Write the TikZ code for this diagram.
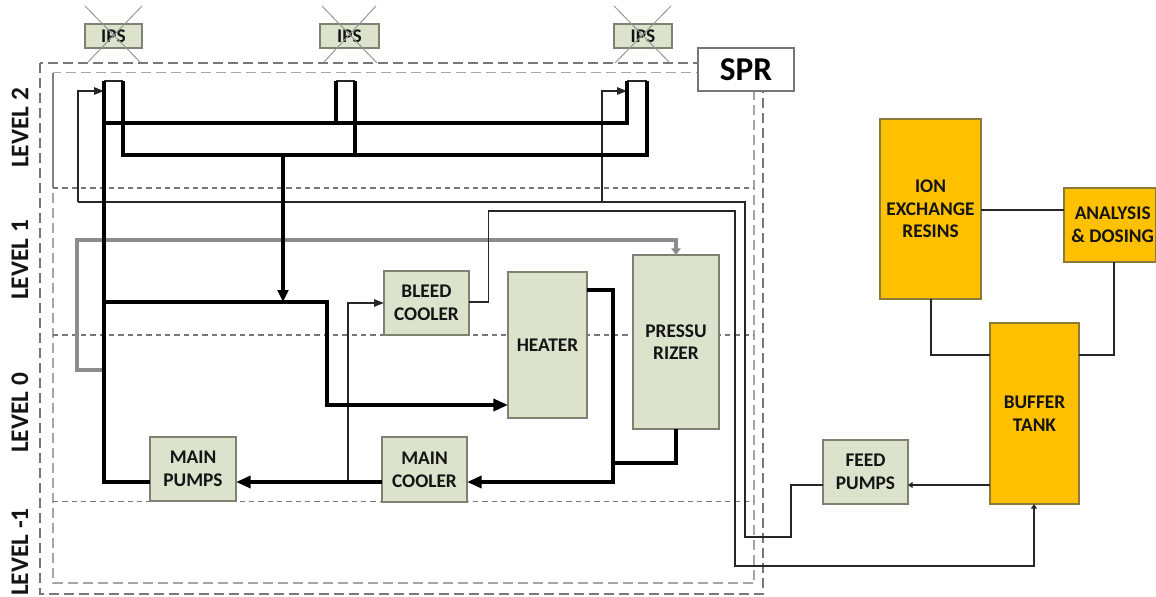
\documentclass[tikz,border=0pt]{standalone}
\usepackage{fontspec}
\setmainfont{Carlito}
\usetikzlibrary{arrows.meta}
\definecolor{boxgreen}{HTML}{DDE2CC}
\definecolor{boxedge}{HTML}{7F8272}
\definecolor{amber}{HTML}{FFC000}
\definecolor{amberedge}{HTML}{8C7A3A}
\definecolor{darkdash}{HTML}{777777}
\definecolor{lightdash}{HTML}{A6A6A6}
\definecolor{grayflow}{HTML}{8C8C8C}
\tikzset{
  sz/.style 2 args={minimum width=#1*0.75pt,minimum height=#2*0.75pt},
  unit/.style={draw=boxedge,line width=0.9pt,fill=boxgreen,outer sep=0pt,inner sep=0pt,align=center,
    font=\fontsize{14.5}{17}\selectfont\bfseries,text=black!92},
  tank/.style={unit,fill=amber,draw=amberedge},
  sprbox/.style={draw=darkdash,line width=0.9pt,fill=white,outer sep=0pt,inner sep=0pt,font=\fontsize{25}{28}\selectfont\bfseries},
  levellabel/.style={rotate=90,font=\fontsize{19}{20}\selectfont\bfseries,text=black!92,inner sep=0pt},
  outerdash/.style={draw=darkdash,line width=0.85pt,dash pattern=on 7.5pt off 3.75pt},
  innerdash/.style={draw=lightdash,line width=1.2pt,dash pattern=on 7.5pt off 3.75pt},
  leveldash/.style={draw=darkdash,line width=0.85pt,dash pattern=on 4pt off 3pt},
  crossline/.style={draw=gray!85,line width=0.7pt},
  thick flow/.style={draw=black,line width=2.6pt,line join=miter},
  thin flow/.style={draw=black!85,line width=1.25pt,line join=miter},
  cap flow/.style={draw=black!85,line width=1.4pt},
  gray flow/.style={draw=grayflow,line width=2.3pt,line join=miter},
  bigtip/.style={-{Triangle[length=11pt,width=9pt]}},
  midtip/.style={-{Triangle[length=7.5pt,width=5.5pt]}},
  smalltip/.style={-{Triangle[length=3.5pt,width=4.5pt]}}
}
\begin{document}
\begin{tikzpicture}[x=0.75pt,y=-0.75pt]
\useasboundingbox (0,0) rectangle (1156,596);
% frames
\coordinate (outerTL) at (40,63);
\coordinate (outerBR) at (763,594);
\coordinate (innerTL) at (53,72.5);
\coordinate (innerBR) at (754,583);
\draw[outerdash] (outerTL) rectangle (outerBR);
\draw[innerdash] (innerTL) rectangle (innerBR);
\coordinate (lineA) at (53,188);
\coordinate (lineB) at (53,335);
\coordinate (lineC) at (53,501.5);
\draw[draw=gray,line width=0.8pt] (innerTL) -- (lineA);
\draw[leveldash] (lineA) -- (innerBR |- lineA);
\draw[leveldash] (lineB) -- (innerBR |- lineB);
\draw[leveldash] (lineC) -- (innerBR |- lineC);
% level labels
\node[levellabel] (lv2) at (20,128) {LEVEL 2};
\node[levellabel] (lv1) at (20,260) {LEVEL 1};
\node[levellabel] (lv0) at (20,413) {LEVEL 0};
\node[levellabel] (lvm) at (20,552) {LEVEL -1};
% junction coordinates
\coordinate (a1) at (104,81);
\coordinate (a2) at (123,81);
\coordinate (b1) at (336,81);
\coordinate (b2) at (355,81);
\coordinate (c1) at (627,81);
\coordinate (c2) at (647,81);
\coordinate (busU) at (104,123);
\coordinate (busL) at (123,155);
\coordinate (tee) at (283,155);
\coordinate (teeB) at (283,302);
\coordinate (split) at (104,302);
\coordinate (grayT) at (104,370);
\coordinate (ret1) at (78,202);
\coordinate (ret2) at (602,202);
% IPS
\node[unit,sz={57}{24},font=\fontsize{14.5}{16}\selectfont\bfseries] (ips1) at (113.5,36) {IPS};
\node[unit,sz={59}{24},font=\fontsize{14.5}{16}\selectfont\bfseries] (ips2) at (349.5,36) {IPS};
\node[unit,sz={58}{24},font=\fontsize{14.5}{16}\selectfont\bfseries] (ips3) at (643,36) {IPS};
\draw[crossline] (85,6) -- (141,63) (142,6) -- (87,63);
\draw[crossline] (322,6) -- (377,63) (376,6) -- (323,63);
\draw[crossline] (614,6) -- (670,63) (671,6) -- (615,63);
% boxes
\node[sprbox,sz={96}{43}] (spr) at (746,69.5) {SPR};
\node[unit,sz={86}{64}] (mainpumps) at (193,469) {MAIN\\PUMPS};
\node[unit,sz={85}{65}] (maincooler) at (424.5,469.5) {MAIN\\COOLER};
\node[unit,sz={85}{64}] (bleed) at (426.5,303) {BLEED\\COOLER};
\node[unit,sz={79}{146}] (heater) at (547.5,345) {HEATER};
\node[unit,sz={86}{174}] (press) at (676,342) {PRESSU\\RIZER};
\node[unit,sz={85}{64}] (feed) at (865.5,472) {FEED\\PUMPS};
\node[tank,sz={89}{181}] (buffer) at (1034.5,413.5) {BUFFER\\TANK};
\node[tank,sz={101}{180}] (ion) at (930.5,209) {ION\\EXCHANGE\\RESINS};
\node[tank,sz={92}{74}] (analysis) at (1110,225) {\hspace{4pt}ANALYSIS\\\hspace{4pt}\&\ DOSING};
% gray line
\draw[gray flow,-{Triangle[length=5pt,width=7pt]}] (grayT) -| (77,240) -| (press.north);
% thin lines
\draw[thin flow,midtip] (ret1) -- (78,91) -- (a1 |- 0,91);
\draw[thin flow] (ret1) -- (745,202) -- (745,537) -- (791,537) -- (791,485) -- (feed.west |- 0,485);
\draw[thin flow,midtip] (ret2) -- (602,91) -- (c1 |- 0,91);
\draw[thin flow,smalltip] (bleed.east |- 0,302) -- (488.5,302) -- (488.5,211) -- (735,211) -- (735,566) -- (1034,566) -- (buffer.south -| 1034,0);
\draw[thin flow,midtip,line width=1.4pt] (348,482) -- (348,303) -- (bleed.west |- 0,303);
\draw[thin flow,smalltip] (buffer.west |- 0,485) -- (feed.east |- 0,485);
\draw[thin flow] (ion.east |- 0,210) -- (analysis.west |- 0,210);
\draw[thin flow] (ion.south -| 931,0) -- (931,355) -- (buffer.west |- 0,355);
\draw[thin flow] (analysis.south -| 1114,0) -- (1114,355) -- (buffer.east |- 0,355);
% thick lines
\draw[cap flow] (a1) -- (a2) (b1) -- (b2) (c1) -- (c2);
\draw[thick flow] (a1) -- (104,482) -- (mainpumps.west |- 0,482);
\draw[thick flow] (a2) -- (busL) -- (c2 |- busL) -- (c2);
\draw[thick flow] (busU) -- (c1 |- busU) -- (c1);
\draw[thick flow] (b1) -- (b1 |- busU);
\draw[thick flow] (b2) -- (b2 |- busL);
\draw[thick flow,-{Triangle[length=9pt,width=8pt]}] (tee) -- (teeB);
\draw[thick flow,bigtip] (split) -- (327,302) -- (327,405) -- (heater.west |- 0,405);
\draw[thick flow,bigtip] (heater.east |- 0,290) -- (613,290) -- (613,482) -- (maincooler.east |- 0,482);
\draw[thick flow] (press.south) -- (676,463) -- (613,463);
\draw[thick flow,bigtip] (maincooler.west |- 0,482) -- (mainpumps.east |- 0,482);
\end{tikzpicture}
\end{document}
